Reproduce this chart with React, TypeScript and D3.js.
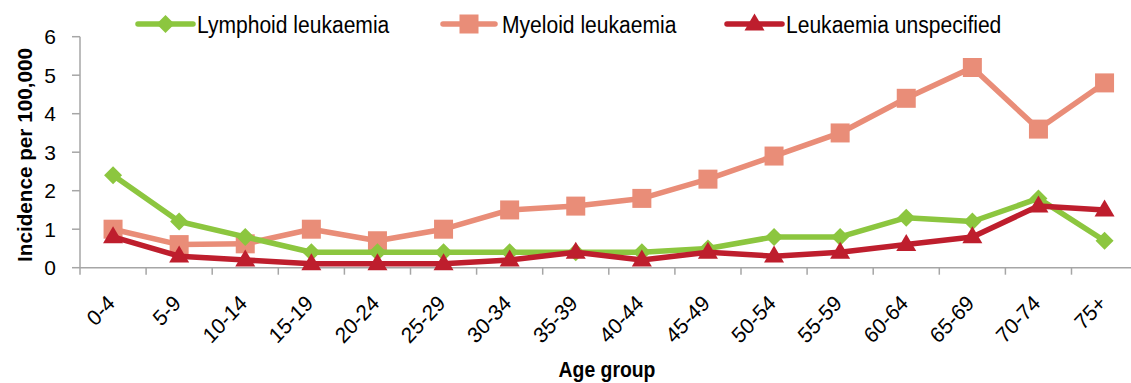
import React from "react";
import * as d3 from "d3";

const categories = ["0-4","5-9","10-14","15-19","20-24","25-29","30-34","35-39","40-44","45-49","50-54","55-59","60-64","65-69","70-74","75+"];
const lymphoid = [2.4,1.2,0.8,0.4,0.4,0.4,0.4,0.4,0.4,0.5,0.8,0.8,1.3,1.2,1.8,0.7];
const myeloid = [1.0,0.6,0.62,1.0,0.7,1.0,1.5,1.6,1.8,2.3,2.9,3.5,4.4,5.2,3.6,4.8];
const unspecified = [0.8,0.3,0.2,0.1,0.1,0.1,0.2,0.4,0.2,0.4,0.3,0.4,0.6,0.8,1.6,1.5];
const yTicks = [0,1,2,3,4,5,6];
const seriesNames = ["Lymphoid leukaemia","Myeloid leukaemia","Leukaemia unspecified"];

const W = 1131, H = 383;
const X0 = 80, STEP = 66.1;
const Y0 = 267.7, Y6 = 36.7;
const SX = 0.86;
const FONT = "'Liberation Sans', Arial, sans-serif";
const GREEN = "#8CC63F", SALMON = "#E98D78", RED = "#BE1E2D", AXIS = "#A6A6A6";

const x = d3.scaleBand<string>().domain(categories).range([X0, X0 + STEP * categories.length]);
const y = d3.scaleLinear().domain([0, 6]).range([Y0, Y6]);
const cx = (c: string) => (x(c) as number) + x.bandwidth() / 2;

type Shape = "diamond" | "square" | "triangle";
function marker(shape: Shape, px: number, py: number, color: string, key: string) {
  if (shape === "square") {
    const s = 19;
    return <rect key={key} x={px - s / 2} y={py - s / 2} width={s} height={s} fill={color} />;
  }
  if (shape === "diamond") {
    const r = 9;
    return <path key={key} d={`M${px},${py - r}L${px + r},${py}L${px},${py + r}L${px - r},${py}Z`} fill={color} />;
  }
  const hw = 10, h = 17;
  return <path key={key} d={`M${px},${py - h * 0.62}L${px + hw},${py + h * 0.38}L${px - hw},${py + h * 0.38}Z`} fill={color} />;
}

const series: { name: string; values: number[]; color: string; shape: Shape }[] = [
  { name: seriesNames[1], values: myeloid, color: SALMON, shape: "square" },
  { name: seriesNames[0], values: lymphoid, color: GREEN, shape: "diamond" },
  { name: seriesNames[2], values: unspecified, color: RED, shape: "triangle" },
];

const legend = [
  { name: seriesNames[0], color: GREEN, shape: "diamond" as Shape, x1: 138, x2: 193, tx: 197 },
  { name: seriesNames[1], color: SALMON, shape: "square" as Shape, x1: 443, x2: 495, tx: 502 },
  { name: seriesNames[2], color: RED, shape: "triangle" as Shape, x1: 727, x2: 782, tx: 786 },
];

export default function App() {
  React.useEffect(() => {
    document.body.style.margin = "0";
  }, []);
  const line = d3.line<number>().x((_, i) => cx(categories[i])).y((v) => y(v));
  const xEnd = X0 + STEP * categories.length;
  return (
    <svg width={W} height={H} style={{ display: "block", fontFamily: FONT }}>
      {/* y axis */}
      <line x1={X0} x2={X0} y1={Y6} y2={Y0} stroke={AXIS} strokeWidth={1.5} />
      {yTicks.map((t) => (
        <g key={t}>
          <line x1={X0 - 8} x2={X0} y1={y(t)} y2={y(t)} stroke={AXIS} strokeWidth={1.5} />
          <text x={X0 - 24} y={y(t) + 7.5} textAnchor="end" fontSize={21} fill="#000">{t}</text>
        </g>
      ))}
      {/* x axis */}
      <line x1={X0} x2={xEnd} y1={Y0} y2={Y0} stroke={AXIS} strokeWidth={1.5} />
      {categories.concat(["__end"]).map((c, i) => {
        const px = X0 + STEP * i;
        return <line key={c} x1={px} x2={px} y1={Y0} y2={Y0 + 7} stroke={AXIS} strokeWidth={1.5} />;
      })}
      {categories.map((c) => (
        <text key={c} transform={`translate(${cx(c) + 3},${Y0 + 37}) scale(0.93,1) rotate(-45)`} textAnchor="end" fontSize={22} fill="#000">{c}</text>
      ))}
      {/* titles */}
      <text transform={`translate(607,377) scale(0.88,1)`} textAnchor="middle" fontSize={22} fontWeight="bold" fill="#000">Age group</text>
      <text transform={`translate(32,155) rotate(-90)`} textAnchor="middle" fontSize={20.7} fontWeight="bold" fill="#000">Incidence per 100,000</text>
      {/* series */}
      {series.map((s) => (
        <g key={s.name}>
          <path d={line(s.values) || ""} fill="none" stroke={s.color} strokeWidth={5.5} strokeLinejoin="round" />
          {s.values.map((v, i) => marker(s.shape, cx(categories[i]), y(v), s.color, `${s.name}-${i}`))}
        </g>
      ))}
      {/* legend */}
      {legend.map((l) => (
        <g key={l.name}>
          <line x1={l.x1} x2={l.x2} y1={24} y2={24} stroke={l.color} strokeWidth={5.5} strokeLinecap="round" />
          {marker(l.shape, (l.x1 + l.x2) / 2, 24, l.color, l.name + "-m")}
          <text transform={`translate(${l.tx},33) scale(${SX},1)`} fontSize={24.5} fill="#000">{l.name}</text>
        </g>
      ))}
    </svg>
  );
}
